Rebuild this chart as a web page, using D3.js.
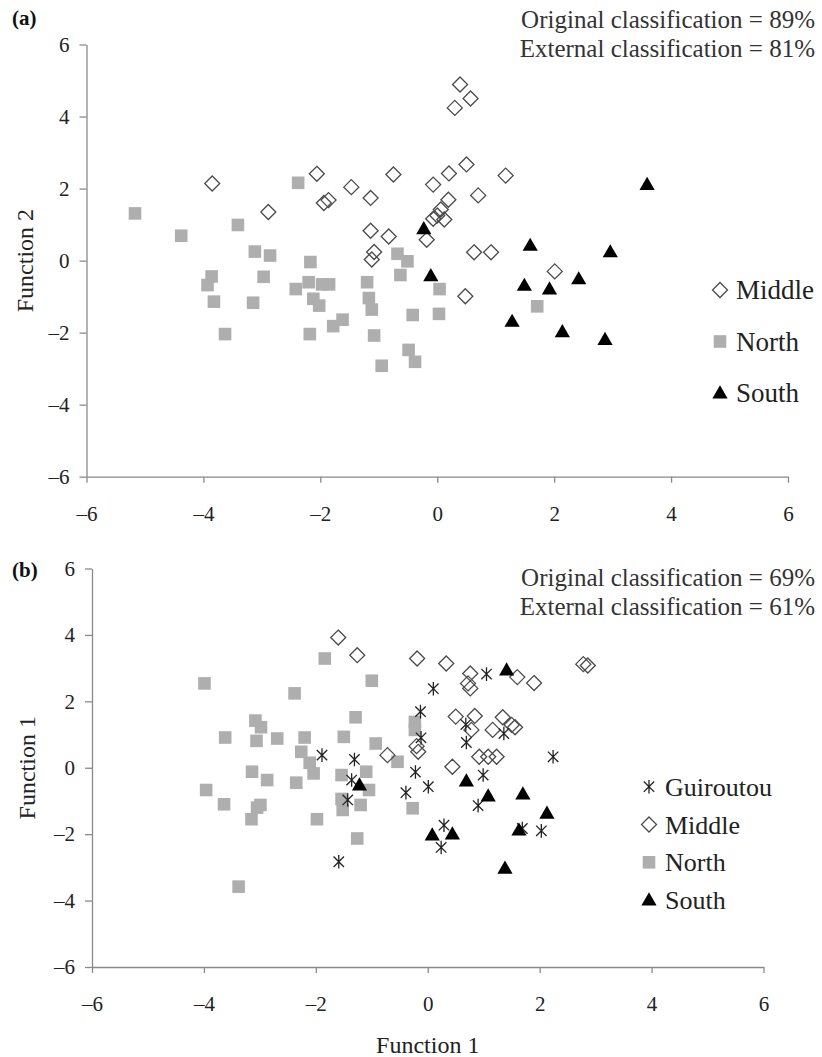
<!DOCTYPE html>
<html>
<head>
<meta charset="utf-8">
<script src="https://cdn.jsdelivr.net/npm/d3@7"></script>
<style>
  body { margin: 0; background: #fff; }
  svg { display: block; font-family: "Liberation Serif", "Times New Roman", serif; }
</style>
</head>
<body>
<div id="chart"></div>
<script>
// tick values shared by both panels
const ticks = [-6, -4, -2, 0, 2, 4, 6];

// panel (a): Function 1 vs Function 2
const aMiddle = [
    [-3.85, 2.14], [-2.89, 1.35], [-2.06, 2.41], [-1.94, 1.60], [-1.86, 1.68], [-1.47, 2.04],
    [-1.14, 1.74], [-0.75, 2.39], [-1.14, 0.83], [-0.83, 0.67], [-1.08, 0.24], [-1.12, 0.03],
    [-0.07, 2.11], [0.20, 2.42], [0.50, 2.67], [1.17, 2.36], [0.70, 1.81], [0.19, 1.69],
    [0.06, 1.42], [-0.07, 1.16], [0.12, 1.14], [0.00, 1.25], [-0.18, 0.58], [0.63, 0.23],
    [0.92, 0.23], [0.48, -0.99], [2.01, -0.30], [0.39, 4.89], [0.57, 4.50], [0.30, 4.24]
];
const aNorth = [
    [-5.17, 1.31], [-4.38, 0.69], [-3.41, 0.99], [-3.12, 0.25], [-2.86, 0.14], [-3.86, -0.44],
    [-3.93, -0.68], [-3.82, -1.14], [-3.63, -2.04], [-2.97, -0.45], [-3.15, -1.17], [-2.38, 2.16],
    [-2.17, -0.04], [-2.20, -0.60], [-2.42, -0.79], [-1.97, -0.66], [-1.85, -0.66], [-2.12, -1.06],
    [-2.02, -1.25], [-2.18, -2.04], [-1.78, -1.82], [-1.62, -1.64], [-1.20, -0.60], [-1.17, -1.04],
    [-1.12, -1.36], [-1.08, -2.08], [-0.95, -2.92], [-0.68, 0.19], [-0.51, -0.02], [-0.63, -0.40],
    [-0.42, -1.51], [-0.49, -2.48], [-0.38, -2.81], [0.04, -0.79], [0.03, -1.48], [1.71, -1.27]
];
const aSouth = [
    [-0.23, 0.88], [-0.11, -0.42], [3.59, 2.11], [1.59, 0.42], [2.96, 0.24], [1.49, -0.69],
    [1.92, -0.79], [2.42, -0.51], [1.28, -1.69], [2.14, -1.98], [2.87, -2.19]
];

// panel (b): Function 1 vs Function 1 (as labelled)
const bGuiroutou = [
    [1.05, 2.82], [0.10, 2.38], [-0.13, 1.69], [-0.12, 0.90], [0.68, 1.30], [0.69, 0.76],
    [1.36, 1.03], [-0.22, -0.13], [0.01, -0.57], [-0.39, -0.75], [0.99, -0.22], [2.24, 0.33],
    [0.90, -1.14], [0.29, -1.73], [0.24, -2.40], [1.69, -1.83], [2.03, -1.90], [-1.89, 0.38],
    [-1.31, 0.25], [-1.36, -0.37], [-1.43, -0.97], [-1.59, -2.83]
];
const bMiddle = [
    [-1.60, 3.92], [-1.26, 3.39], [-0.19, 3.29], [0.33, 3.14], [0.76, 2.84], [0.72, 2.54],
    [0.76, 2.39], [1.60, 2.73], [1.90, 2.55], [2.78, 3.12], [2.86, 3.08], [-0.72, 0.38],
    [0.50, 1.54], [0.84, 1.56], [0.78, 1.14], [1.16, 1.14], [1.34, 1.52], [1.50, 1.29],
    [1.56, 1.22], [-0.20, 0.65], [-0.17, 0.48], [0.92, 0.33], [1.08, 0.33], [1.23, 0.33],
    [0.44, 0.03]
];
const bNorth = [
    [-3.99, 2.54], [-1.84, 3.29], [-2.38, 2.24], [-1.00, 2.62], [-1.29, 1.52], [-3.08, 1.42],
    [-2.98, 1.22], [-3.62, 0.91], [-3.06, 0.81], [-2.69, 0.88], [-2.20, 0.91], [-1.50, 0.93],
    [-0.93, 0.73], [-2.26, 0.48], [-0.23, 1.38], [-0.23, 1.14], [-2.11, 0.15], [-2.04, -0.17],
    [-3.14, -0.12], [-2.87, -0.37], [-3.96, -0.67], [-3.64, -1.10], [-2.99, -1.12], [-3.05, -1.20],
    [-3.15, -1.55], [-2.35, -0.45], [-1.98, -1.55], [-1.54, -0.22], [-1.54, -0.94], [-1.52, -1.27],
    [-1.10, -0.12], [-1.05, -0.67], [-1.20, -1.12], [-1.26, -2.13], [-3.38, -3.58], [-0.54, 0.18],
    [-0.27, -1.22]
];
const bSouth = [
    [1.41, 2.94], [-1.22, -0.52], [0.08, -2.03], [0.44, -2.00], [0.69, -0.40], [1.08, -0.85],
    [1.70, -0.79], [2.13, -1.37], [1.63, -1.88], [1.38, -3.03]
];

const aLabels = ["Original classification = 89%", "External classification = 81%"];
const bLabels = ["Original classification = 69%", "External classification = 61%"];

const W = 822, H = 1057;
const svg = d3.select("#chart").append("svg").attr("width", W).attr("height", H);

// marker shapes
const shapes = {
    diamond: "M0,-7.5L7.5,0L0,7.5L-7.5,0Z",
    square: "M-6.3,-6.3H6.3V6.3H-6.3Z",
    triangle: "M0,-7.8L7.6,5.4H-7.6Z",
    star: "M0,-6.8V6.8M-5.2,-5.2L5.2,5.2M-5.2,5.2L5.2,-5.2"
};
const styles = {
    Guiroutou: { shape: "star", fill: "none", stroke: "#222", width: 1.3 },
    Middle: { shape: "diamond", fill: "#fff", stroke: "#4a4a4a", width: 1.3 },
    North: { shape: "square", fill: "#aeaeae", stroke: "none", width: 0 },
    South: { shape: "triangle", fill: "#000", stroke: "none", width: 0 }
};

function drawPanel(cfg) {
    const x = d3.scaleLinear().domain([-6, 6]).range(cfg.xr);
    const y = d3.scaleLinear().domain([-6, 6]).range(cfg.yr);
    const g = svg.append("g");

    const fmt = d => d < 0 ? "\u2013" + Math.abs(d) : String(d);

    const xa = g.append("g")
        .attr("transform", `translate(0,${cfg.yr[0]})`)
        .call(d3.axisBottom(x).tickValues(ticks).tickFormat(fmt).tickSize(6).tickSizeOuter(0));
    const ya = g.append("g")
        .attr("transform", `translate(${cfg.xr[0]},0)`)
        .call(d3.axisLeft(y).tickValues(ticks).tickFormat(fmt).tickSize(7).tickSizeOuter(0));

    [xa, ya].forEach(a => {
        a.select(".domain").attr("stroke", "#8a8a8a").attr("stroke-width", 1.3);
        a.selectAll(".tick line").attr("stroke", "#8a8a8a").attr("stroke-width", 1.3);
        a.selectAll(".tick text").attr("fill", "#222").style("font-size", "21px")
            .style("font-family", "Liberation Serif");
    });
    xa.selectAll(".tick text").attr("y", 29);
    ya.selectAll(".tick text").attr("x", -17);

    // axis titles
    if (cfg.yTitle) {
        g.append("text")
            .attr("transform", `translate(${cfg.yTitleX},${(cfg.yr[0] + cfg.yr[1]) / 2}) rotate(-90)`)
            .attr("text-anchor", "middle")
            .attr("fill", "#222")
            .style("font-size", "24px")
            .text(cfg.yTitle);
    }
    if (cfg.xTitle) {
        g.append("text")
            .attr("x", (cfg.xr[0] + cfg.xr[1]) / 2)
            .attr("y", cfg.xTitleY)
            .attr("text-anchor", "middle")
            .attr("fill", "#222")
            .style("font-size", "24px")
            .text(cfg.xTitle);
    }

    // panel letter
    g.append("text")
        .attr("x", 12)
        .attr("y", cfg.letterY)
        .attr("fill", "#111")
        .style("font-size", "21px")
        .style("font-weight", "bold")
        .text(cfg.letter);

    // classification notes
    g.selectAll("text.note")
        .data(cfg.notes)
        .join("text")
        .attr("class", "note")
        .attr("x", 815)
        .attr("y", (d, i) => cfg.noteY + i * 29)
        .attr("text-anchor", "end")
        .attr("fill", "#333")
        .style("font-size", "25px")
        .text(d => d);

    // points, drawn series by series
    cfg.series.forEach(s => {
        const st = styles[s.name];
        g.append("g").selectAll("path")
            .data(s.values)
            .join("path")
            .attr("transform", d => `translate(${x(d[0])},${y(d[1])})`)
            .attr("d", shapes[st.shape])
            .attr("fill", st.fill)
            .attr("fill-opacity", st.shape === "diamond" ? 0 : 1)
            .attr("stroke", st.stroke)
            .attr("stroke-width", st.width);
    });

    // legend
    const lg = g.append("g").attr("transform", `translate(${cfg.legendX},${cfg.legendY})`);
    const items = lg.selectAll("g")
        .data(cfg.legend)
        .join("g")
        .attr("transform", (d, i) => `translate(0,${i * cfg.legendStep})`);
    items.append("path")
        .attr("d", d => shapes[styles[d].shape])
        .attr("fill", d => styles[d].fill)
        .attr("stroke", d => styles[d].stroke)
        .attr("stroke-width", d => styles[d].width);
    items.append("text")
        .attr("x", 16)
        .attr("dy", "0.35em")
        .attr("fill", "#222")
        .style("font-size", cfg.legendFont)
        .text(d => d);
}

drawPanel({
    xr: [86.5, 788], yr: [476.7, 44.5],
    letter: "(a)", letterY: 25,
    notes: aLabels, noteY: 28,
    yTitle: "Function 2", yTitleX: 33,
    series: [
        { name: "North", values: aNorth },
        { name: "Middle", values: aMiddle },
        { name: "South", values: aSouth }
    ],
    legend: ["Middle", "North", "South"],
    legendX: 720, legendY: 290, legendStep: 51.5, legendFont: "27px"
});

drawPanel({
    xr: [92, 763.5], yr: [967, 568.5],
    letter: "(b)", letterY: 577,
    notes: bLabels, noteY: 586,
    yTitle: "Function 1", yTitleX: 35,
    xTitle: "Function 1", xTitleY: 1053,
    series: [
        { name: "North", values: bNorth },
        { name: "Middle", values: bMiddle },
        { name: "Guiroutou", values: bGuiroutou },
        { name: "South", values: bSouth }
    ],
    legend: ["Guiroutou", "Middle", "North", "South"],
    legendX: 649, legendY: 786.7, legendStep: 37.8, legendFont: "26px"
});
</script>
</body>
</html>
